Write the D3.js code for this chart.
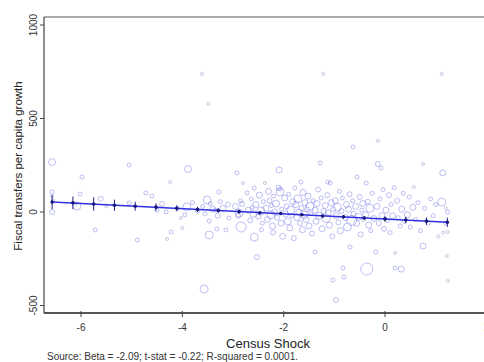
<!DOCTYPE html>
<html><head><meta charset="utf-8">
<script src="https://cdn.jsdelivr.net/npm/d3@7"></script>
<style>body{margin:0;background:#fff;}svg{display:block;}</style>
</head><body>
<script>
// ---- data ----
const xTicks = [-6, -4, -2, 0, 2];
const yTicks = [-500, 0, 500, 1000];
const xTitle = "Census Shock";
const yTitle = "Fiscal transfers per capita growth";
const note = "Source: Beta = -2.09; t-stat = -0.22; R-squared = 0.0001.";

// scatter: shock, transfer growth, weight (marker size)
const shock = [
-6.57,-6.57,-6.57,-6.57,-6.55,-6.02,-6.08,-6.1,-5.98,-5.72,-5.61,-5.5,
-5.05,-5.05,-4.89,-4.72,-4.6,-4.4,-4.32,-4.24,-4.22,-4.3,-4.0,-4.03,-3.89,-3.91,-3.61,-3.49,-3.51,-3.45,-3.47,-3.47,-3.57,-3.28,-3.32,-3.14,-3.08,-3.2,-3.1,-3.35,
-3.6,-3.55,-3.4,-3.3,-3.25,-3.7,-3.8,-4.1,-4.5,-3.95,
-2.95,-2.9,-2.85,-2.82,-2.8,-2.92,-2.88,-2.84,
-2.72,-2.7,-2.66,-2.64,-2.6,-2.58,-2.62,-2.58,
-2.55,-2.5,-2.48,-2.45,-2.42,-2.53,-2.4,-2.44,-2.37,
-2.35,-2.32,-2.3,-2.28,-2.25,-2.22,-2.24,-2.21,-2.2,
-2.18,-2.15,-2.13,-2.1,-2.09,-2.07,-2.05,-2.04,-2.02,-2.07,
-1.98,-1.96,-1.94,-1.92,-1.9,-1.88,-1.86,-1.84,-1.82,-1.8,-1.78,
-1.76,-1.74,-1.72,-1.7,-1.68,-1.66,-1.65,-1.63,-1.62,-1.6,
-1.58,-1.56,-1.54,-1.52,-1.5,-1.48,-1.46,-1.44,-1.42,-1.38,
-1.38,-1.36,-1.34,-1.32,-1.3,-1.28,-1.26,-1.24,-1.22,-1.21,
-1.18,-1.16,-1.14,-1.13,-1.12,-1.1,-1.08,-1.06,-1.04,-1.02,-1.03,-0.97,
-0.98,-0.96,-0.94,-0.92,-0.9,-0.88,-0.86,-0.83,-0.81,-0.84,
-0.78,-0.76,-0.74,-0.72,-0.7,-0.69,-0.66,-0.64,-0.63,-0.62,
-0.58,-0.56,-0.55,-0.52,-0.5,-0.48,-0.46,-0.44,-0.42,
-0.38,-0.37,-0.36,-0.34,-0.32,-0.3,-0.28,-0.25,-0.22,
-0.18,-0.16,-0.14,-0.14,-0.08,-0.12,-0.1,-0.06,-0.04,-0.02,
0.02,0.05,0.08,0.1,0.12,0.15,0.18,0.2,0.2,
0.24,0.26,0.3,0.32,0.33,0.36,0.38,
0.44,0.48,0.5,0.55,0.57,0.6,0.65,0.7,0.75,0.75,0.78,
0.85,0.9,0.95,1.0,1.05,1.12,1.12,1.14,1.2,1.24,1.24,1.22,1.24,1.15,1.2
];
const transfer = [
267,107,85,0,60,96,32,45,187,-96,70,30,
251,48,-150,102,86,43,0,160,-107,-144,-86,-32,230,27,738,578,64,45,-48,-123,-412,107,-91,-96,-32,20,40,10,
30,-10,15,-20,55,5,50,20,10,-15,
30,-20,60,43,155,209,-5,-80,
102,10,-45,70,-10,128,25,-134,
40,-25,90,5,-60,-241,55,-95,155,
20,-40,110,60,-15,-75,35,-110,85,
0,45,-30,130,225,107,-60,15,-130,123,
75,-10,30,-50,95,-85,10,-20,55,-140,128,
40,-30,70,0,-60,160,20,-95,105,-15,
50,-40,15,85,-75,30,-10,-115,60,-214,
10,-50,45,120,-20,262,75,-90,738,5,
35,-35,90,160,-5,-70,155,50,-130,15,-364,-471,
60,-20,25,-55,110,-100,5,-300,-348,75,
-30,40,-80,15,95,-187,-45,60,348,-10,
30,-60,187,-25,80,-120,10,45,-40,
-15,155,-305,55,-70,20,-100,100,-35,
-214,30,380,257,235,-60,70,-20,120,-90,
10,-45,90,-110,40,-20,130,-300,-219,
60,-30,-75,-305,15,100,-50,
-15,80,-80,25,134,-40,50,-100,-182,257,20,
-60,70,-20,40,-130,53,738,209,20,0,-107,-235,-369,-110,-60
];
const weight = [
3.5,2,1.5,2.5,1.5,2,4,1.5,2,2,2.5,1.5,
2,2,2,2,2,2.5,2,1.5,2,1.5,1.5,1.5,3.5,4,1.5,1.5,4,2,2,4,4,2,2,2,2,3,2.5,2,
2,2,3,2.5,2,2,2,2,2,2,
3,2.5,2,2.5,1.5,2,4,5,
2,3,2.5,2,3.5,2,2,4,
3,2.5,3,4,2,2.5,2,2,1.5,
3,3,3,2.5,4,3,2,2.5,2,
3,3.5,2.5,2.5,3,4,3,2,3,2,
3,3,2.5,3.5,2,3,4,2,3,2.5,2,
3,3,4,3,2.5,2,2.5,3,3,4,
3,3,2.5,3,3,4,2,2.5,2,2,
3,3,3,2.5,3.5,2,2,3,1.5,2.5,
3,4,2.5,2,3,3,2,3,2.5,2.5,2,2.5,
3,3,4,2.5,2,3,2.5,2,2,2,
3,3,4,3,2.5,2,5,2,2,2.5,
3,3,2,3.5,2.5,2.5,2,3,2,
3,2,6,2.5,3,4,2,2,3,
2,3,1.5,2.5,2,2.5,2,3,2,2.5,
3,2,2.5,2,2,3,2,2,1.5,
2.5,2,2,3,3,2,2,
3,2,2,3,1.5,2,2,2,3,1.5,2,
2,2,2,2,1.5,4,1.5,3,1.5,2,1.5,1.5,1.5,1.5,2
];

// binned means with confidence intervals
const binX = [-6.57,-6.16,-5.75,-5.34,-4.93,-4.52,-4.11,-3.70,-3.29,-2.88,-2.47,-2.06,-1.64,-1.23,-0.82,-0.41,0.0,0.41,0.82,1.23];
const binY = [53,49,43,36,31,26,20,14,8,2,-4,-8,-15,-21,-26,-32,-37,-43,-49,-55];
const binCI = [38,34,36,30,24,20,16,14,12,10,8,7,7,7,8,10,14,18,20,25];

// fitted line endpoints
const fitX = [-6.57, 1.24];
const fitY = [53.5, -55];

// ---- chart ----
const W = 484, H = 362;
const svg = d3.select("body").append("svg").attr("width", W).attr("height", H)
  .style("font-family", "'Liberation Sans', Arial, sans-serif");

const x = d3.scaleLinear().domain([-6, 0]).range([81, 385]);
const y = d3.scaleLinear().domain([0, 500]).range([212, 118.5]);
const pL = 44, pR = 490, pT = 17, pB = 313;

svg.append("defs").append("clipPath").attr("id","clip")
  .append("rect").attr("x", pL).attr("y", pT).attr("width", pR-pL).attr("height", pB-pT);

// frame
svg.append("line").attr("x1", pL).attr("x2", W).attr("y1", pT).attr("y2", pT)
  .attr("stroke", "#555").attr("stroke-width", 1.2);

const pts = shock.map((s, i) => ({s, t: transfer[i], w: weight[i]}));
const plot = svg.append("g").attr("clip-path", "url(#clip)");
plot.selectAll("circle.pt").data(pts).enter().append("circle")
  .attr("class","pt")
  .attr("cx", d => x(d.s)).attr("cy", d => y(d.t)).attr("r", d => d.w)
  .attr("fill", "none")
  .attr("stroke", d => d.w <= 1.5 ? "#a8a8cc" : "#6c6ce6")
  .attr("stroke-opacity", d => d.w <= 1.5 ? 0.8 : 0.55)
  .attr("stroke-width", 0.8);

// fitted line
plot.append("line")
  .attr("x1", x(fitX[0])).attr("y1", y(fitY[0]))
  .attr("x2", x(fitX[1])).attr("y2", y(fitY[1]))
  .attr("stroke", "#3030e0").attr("stroke-width", 1.4);

// CIs
const bins = binX.map((b, i) => ({b, m: binY[i], c: binCI[i]}));
plot.selectAll("line.ci").data(bins).enter().append("line").attr("class","ci")
  .attr("x1", d => x(d.b)).attr("x2", d => x(d.b))
  .attr("y1", d => y(d.m - d.c)).attr("y2", d => y(d.m + d.c))
  .attr("stroke", "#22228a").attr("stroke-width", 1);
plot.selectAll("circle.bin").data(bins).enter().append("circle").attr("class","bin")
  .attr("cx", d => x(d.b)).attr("cy", d => y(d.m)).attr("r", 1.8)
  .attr("fill", "#18187e");

// y axis
svg.append("line").attr("x1", pL).attr("x2", pL).attr("y1", pT).attr("y2", pB)
  .attr("stroke", "#444").attr("stroke-width", 1.2);
const ya = svg.append("g");
ya.selectAll("line").data(yTicks).enter().append("line")
  .attr("x1", pL - 4).attr("x2", pL).attr("y1", d => y(d)).attr("y2", d => y(d))
  .attr("stroke", "#444");
ya.selectAll("text").data(yTicks).enter().append("text")
  .attr("transform", d => `translate(${pL - 7},${y(d)}) rotate(-90)`)
  .attr("text-anchor", "middle").attr("font-size", 10).attr("fill", "#333")
  .text(d => d);
svg.append("text").attr("transform", `translate(22,166) rotate(-90)`)
  .attr("text-anchor", "middle").attr("font-size", 11.5).attr("fill", "#222").text(yTitle);

// x axis
svg.append("line").attr("x1", pL).attr("x2", W).attr("y1", pB).attr("y2", pB)
  .attr("stroke", "#555").attr("stroke-width", 2);
const xa = svg.append("g");
xa.selectAll("line").data(xTicks).enter().append("line")
  .attr("x1", d => x(d)).attr("x2", d => x(d)).attr("y1", pB - 2).attr("y2", pB + 4)
  .attr("stroke", "#444");
xa.selectAll("text").data(xTicks).enter().append("text")
  .attr("x", d => x(d)).attr("y", pB + 18)
  .attr("text-anchor", "middle").attr("font-size", 10).attr("fill", "#333")
  .text(d => d);
svg.append("text").attr("x", 268).attr("y", 348).attr("text-anchor", "middle")
  .attr("font-size", 13).attr("fill", "#222").text(xTitle);
svg.append("text").attr("x", 47).attr("y", 360).attr("font-size", 10).attr("fill", "#333").text(note);
</script>
</body></html>
